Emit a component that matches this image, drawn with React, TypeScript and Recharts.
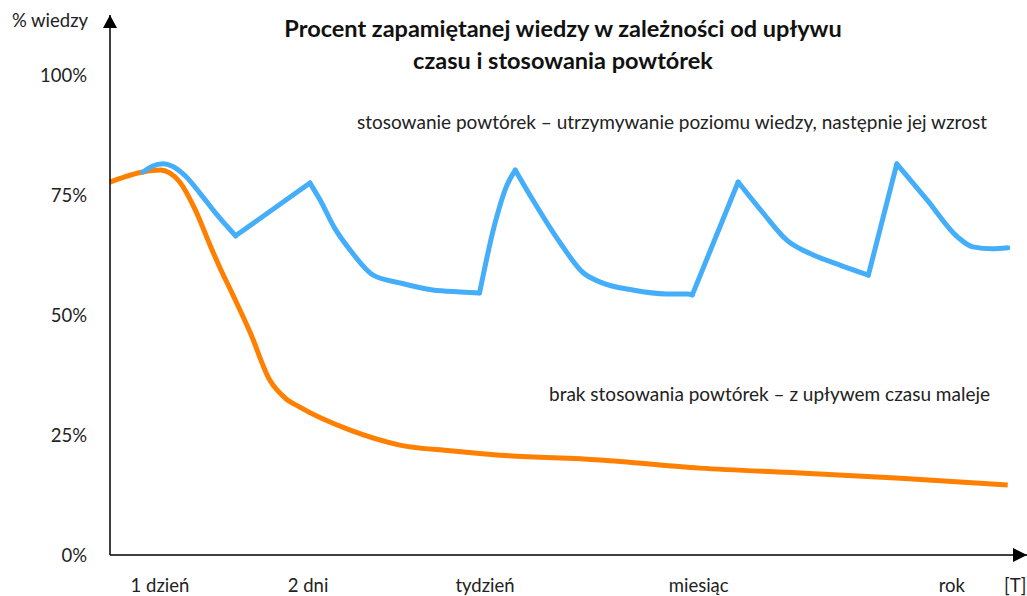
import React from 'react';
import { LineChart, Line, XAxis, YAxis } from 'recharts';

// czas w umownych jednostkach (0 = początek osi, 100 = koniec osi)
const repeatTime = [3.6, 4.6, 5.8, 6.8, 8.2, 9.8, 11.7, 13.7, 21.8, 22.9, 24.5, 26.2, 28.7, 31.6, 35.2, 38.2, 40.3, 41.9, 43.3, 44.2, 46.1, 49.1, 51.6, 53.4, 57.0, 60.7, 63.0, 63.5, 68.5, 71.2, 73.8, 76.7, 79.6, 82.7, 85.8, 89.1, 92.4, 94.1, 96.2, 97.9];
const repeatValues = [79.8, 81.0, 81.5, 81.0, 79.0, 75.4, 70.8, 66.5, 77.5, 74.0, 68.1, 63.5, 58.3, 56.7, 55.2, 54.8, 54.6, 68.5, 77.1, 80.2, 74.0, 65.0, 58.8, 56.9, 55.2, 54.4, 54.4, 54.2, 77.7, 71.3, 65.6, 62.5, 60.4, 58.3, 81.5, 74.0, 66.3, 64.2, 63.8, 64.0];
// indeksy ostrych załamań (powtórki)
const repeatCorners = [7, 8, 16, 19, 27, 28, 33, 34];

const noRepeatTime = [0, 1.6, 3.6, 5.5, 6.5, 7.6, 9.3, 10.9, 12.0, 13.4, 15.3, 17.4, 19.1, 20.7, 26.2, 31.6, 37.1, 42.5, 53.4, 64.3, 75.2, 86.2, 97.9];
const noRepeatValues = [77.7, 78.8, 79.8, 80.2, 79.6, 77.7, 71.9, 64.6, 59.8, 54.2, 46.3, 36.5, 32.7, 30.8, 26.0, 22.9, 21.7, 20.8, 19.8, 18.1, 17.1, 16.0, 14.6];

const tickTimes = [5.45, 21.6, 40.9, 64.2, 91.8, 98.9];
const tickLabels = ['1 dzień', '2 dni', 'tydzień', 'miesiąc', 'rok', '[T]'];
const percentTicks = [0, 25, 50, 75, 100];

const repeatData = repeatTime.map((t, i) => ({ t, v: repeatValues[i] }));
const noRepeatData = noRepeatTime.map((t, i) => ({ t, v: noRepeatValues[i] }));

// dzielimy niebieską linię na odcinki między załamaniami
const bounds = [0, ...repeatCorners, repeatData.length - 1];
const repeatSegments = bounds.slice(1).map((end, i) => repeatData.slice(bounds[i], end + 1));

const FONT = 'Lato, "Open Sans", sans-serif';

function YArrow({ viewBox }: any) {
  const x = viewBox.x + viewBox.width;
  const y = viewBox.y;
  return (
    <g>
      <polygon points={`${x - 7},${y + 13} ${x},${y} ${x + 7},${y + 13}`} fill="#000" />
      <text x={50} y={y + 7} textAnchor="middle" dominantBaseline="middle" fontSize={18.5} fontFamily={FONT} fill="#222">
        % wiedzy
      </text>
    </g>
  );
}

function XArrow({ viewBox }: any) {
  const x = viewBox.x + viewBox.width;
  const y = viewBox.y;
  return <polygon points={`${x - 14},${y - 7} ${x},${y} ${x - 14},${y + 7}`} fill="#000" />;
}

export default function App() {
  return (
    <div style={{ position: 'absolute', left: 0, top: 0, width: 1027, height: 596, background: '#fff', fontFamily: FONT }}>
      <LineChart width={1027} height={596} margin={{ top: 15, right: 0, left: 0, bottom: 0 }}>
        <XAxis
          type="number"
          dataKey="t"
          domain={[0, 100]}
          ticks={tickTimes}
          tickFormatter={(v: number) => tickLabels[tickTimes.indexOf(v)]}
          height={41}
          tickSize={0}
          tickMargin={24}
          axisLine={{ stroke: '#000', strokeWidth: 1.5 }}
          tick={{ fontSize: 18.5, fill: '#222', fontFamily: FONT }}
          allowDuplicatedCategory={false}
          label={<XArrow />}
        />
        <YAxis
          type="number"
          domain={[0, 112.5]}
          ticks={percentTicks}
          tickFormatter={(v: number) => `${v}%`}
          width={110}
          tickSize={0}
          tickMargin={23}
          axisLine={{ stroke: '#000', strokeWidth: 1.5 }}
          tick={{ fontSize: 18.5, fill: '#222', fontFamily: FONT }}
          label={<YArrow />}
        />
        <Line
          data={noRepeatData}
          dataKey="v"
          type="monotone"
          stroke="#FF8000"
          strokeWidth={5}
          dot={false}
          isAnimationActive={false}
        />
        {repeatSegments.map((seg, i) => (
          <Line
            key={`seg-${i}`}
            data={seg}
            dataKey="v"
            type="monotone"
            stroke="#45AEFA"
            strokeWidth={5}
            strokeLinecap="round"
            strokeLinejoin="round"
            dot={false}
            isAnimationActive={false}
          />
        ))}
      </LineChart>
      <div style={{ position: 'absolute', left: 213, top: 12, width: 700, textAlign: 'center', fontWeight: 700, fontSize: 23.5, lineHeight: '32px', color: '#111' }}>
        Procent zapamiętanej wiedzy w zależności od upływu
        <br />
        czasu i stosowania powtórek
      </div>
      <div style={{ position: 'absolute', left: 357, top: 111, fontSize: 19, lineHeight: '22px', color: '#222', whiteSpace: 'nowrap' }}>
        stosowanie powtórek – utrzymywanie poziomu wiedzy, następnie jej wzrost
      </div>
      <div style={{ position: 'absolute', left: 549, top: 383, fontSize: 19, lineHeight: '22px', color: '#222', whiteSpace: 'nowrap' }}>
        brak stosowania powtórek – z upływem czasu maleje
      </div>
    </div>
  );
}
